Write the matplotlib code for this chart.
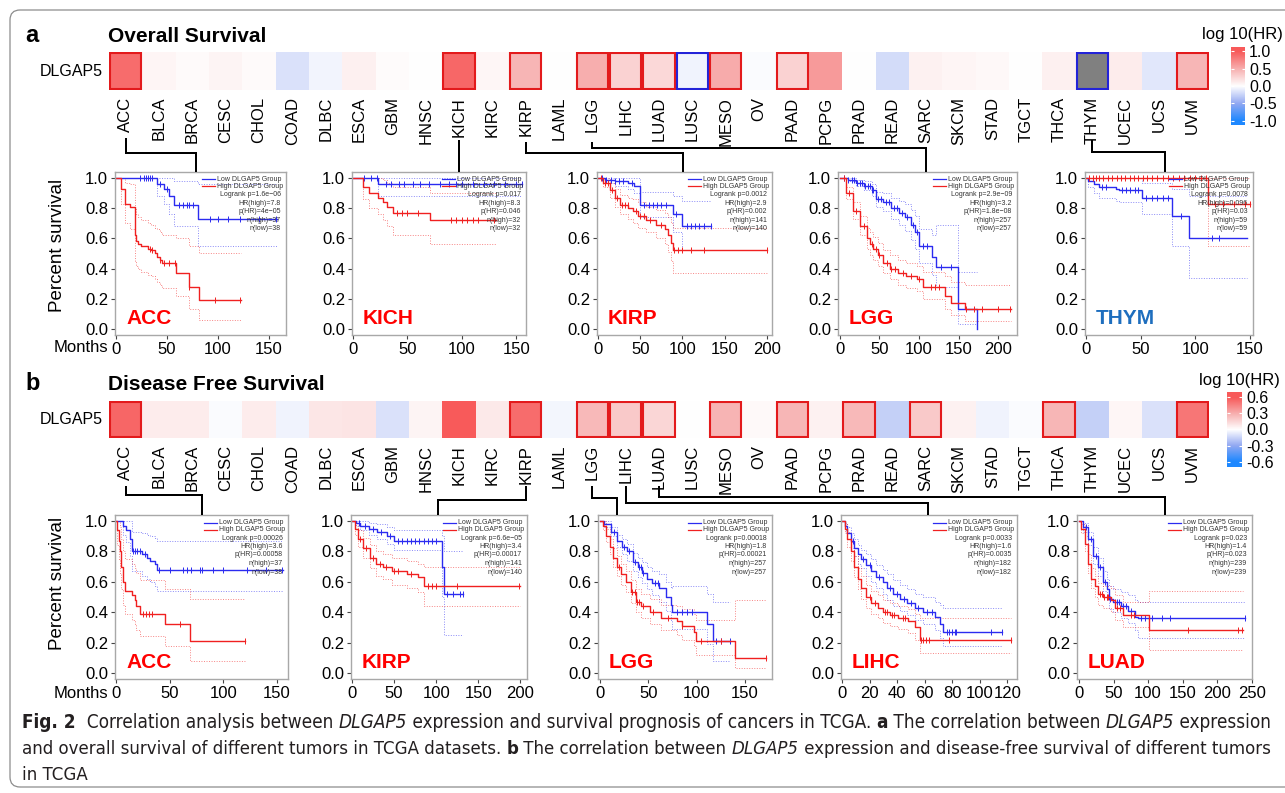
import numpy as np
import matplotlib
matplotlib.use("Agg")
import matplotlib.pyplot as plt
from matplotlib.colors import LinearSegmentedColormap, Normalize
from matplotlib.patches import Rectangle, FancyBboxPatch
from matplotlib.lines import Line2D
from matplotlib.transforms import IdentityTransform
from matplotlib import font_manager

# ---------------------------------------------------------------- data
CANCERS = ["ACC", "BLCA", "BRCA", "CESC", "CHOL", "COAD", "DLBC", "ESCA", "GBM",
           "HNSC", "KICH", "KIRC", "KIRP", "LAML", "LGG", "LIHC", "LUAD", "LUSC",
           "MESO", "OV", "PAAD", "PCPG", "PRAD", "READ", "SARC", "SKCM", "STAD",
           "TGCT", "THCA", "THYM", "UCEC", "UCS", "UVM"]

# log10(HR) per cancer, overall survival (THYM out of range -> grey)
OS_LOGHR = [0.89, 0.06, 0.03, 0.07, 0.03, -0.17, -0.06, 0.09, 0.02, 0.0, 0.92, 0.05,
            0.46, 0.0, 0.50, 0.28, 0.24, -0.07, 0.52, -0.02, 0.28, 0.62, 0.0, -0.20,
            0.08, 0.06, 0.04, 0.0, 0.09, np.nan, 0.11, -0.14, 0.45]
# significance: 1 = HR>1 significant (red box), -1 = HR<1 significant (blue box)
OS_SIG = [1, 0, 0, 0, 0, 0, 0, 0, 0, 0, 1, 0, 1, 0, 1, 1, 1, -1, 1, 0, 1, 0, 0, 0,
          0, 0, 0, 0, 0, -1, 0, 0, 1]
DFS_LOGHR = [0.556, 0.07, 0.07, -0.01, 0.07, -0.04, 0.09, 0.10, -0.10, 0.04, 0.62, 0.08,
             0.53, -0.03, 0.26, 0.20, 0.15, 0.0, 0.28, 0.02, 0.27, 0.05, 0.26, -0.16,
             0.20, 0.05, -0.04, -0.01, 0.27, -0.16, 0.03, -0.10, 0.50]
DFS_SIG = [1, 0, 0, 0, 0, 0, 0, 0, 0, 0, 0, 0, 1, 0, 1, 1, 1, 0, 1, 0, 1, 0, 1, 0,
           1, 0, 0, 0, 1, 0, 0, 0, 1]

OS_TICKS = [-1.0, -0.5, 0.0, 0.5, 1.0]
OS_TICKLABELS = ["-1.0", "-0.5", "0.0", "0.5", "1.0"]
DFS_TICKS = [-0.6, -0.3, 0.0, 0.3, 0.6]
DFS_TICKLABELS = ["-0.6", "-0.3", "0.0", "0.3", "0.6"]

# ---- Kaplan-Meier curves (months, survival, CI low, CI high, censor times)
os_acc_low = dict(t=[0, 40, 47, 52, 57, 81, 158],
                  s=[1.0, 0.96, 0.93, 0.88, 0.82, 0.73, 0.73],
                  lo=[1.0, 0.88, 0.83, 0.76, 0.68, 0.55, 0.55],
                  hi=[1.0, 1.0, 1.0, 1.0, 0.98, 0.96, 0.96],
                  cens=[24, 27, 29, 31, 33, 35, 43, 50, 62, 66, 70, 72, 76, 92, 100, 110, 122, 140, 157])
os_acc_high = dict(t=[0, 4.5, 9, 14, 18.5, 20, 22, 25, 31, 34, 38, 40, 43, 45, 59, 72, 82, 123],
                   s=[1.0, 0.93, 0.83, 0.81, 0.62, 0.58, 0.56, 0.55, 0.53, 0.52, 0.50, 0.48, 0.46, 0.44, 0.37, 0.28, 0.19, 0.19],
                   lo=[1.0, 0.83, 0.70, 0.66, 0.45, 0.42, 0.40, 0.38, 0.36, 0.35, 0.33, 0.31, 0.29, 0.27, 0.22, 0.13, 0.06, 0.06],
                   hi=[1.0, 1.0, 0.97, 0.96, 0.80, 0.76, 0.74, 0.72, 0.70, 0.69, 0.67, 0.66, 0.64, 0.62, 0.60, 0.55, 0.50, 0.50],
                   cens=[33, 35, 43, 47, 52, 58, 72, 97, 122])
os_kich_low = dict(t=[0, 23, 155], s=[1.0, 0.96, 0.96], lo=[1.0, 0.88, 0.88], hi=[1.0, 1.0, 1.0],
                   cens=[10, 17, 22, 30, 35, 42, 47, 55, 62, 70, 80, 88, 95, 100, 110, 120, 130, 140, 150, 155])
os_kich_high = dict(t=[0, 9, 15, 23, 28, 31, 37, 71, 131],
                    s=[1.0, 0.94, 0.90, 0.87, 0.84, 0.81, 0.77, 0.72, 0.72],
                    lo=[1.0, 0.86, 0.80, 0.76, 0.72, 0.68, 0.62, 0.56, 0.56],
                    hi=[1.0, 1.0, 1.0, 1.0, 0.99, 0.97, 0.94, 0.90, 0.90],
                    cens=[40, 45, 50, 60, 90, 95, 100, 105, 110, 115, 130])
os_kirp_low = dict(t=[0, 8, 20, 35, 43, 50, 89, 100, 134],
                   s=[1.0, 0.99, 0.98, 0.97, 0.95, 0.82, 0.76, 0.68, 0.68],
                   lo=[1.0, 0.97, 0.95, 0.93, 0.90, 0.74, 0.64, 0.52, 0.52],
                   hi=[1.0, 1.0, 1.0, 1.0, 1.0, 0.91, 0.88, 0.85, 0.85],
                   cens=[5, 10, 15, 20, 25, 30, 40, 55, 60, 65, 70, 75, 80, 92, 105, 110, 115, 120, 125, 134])
os_kirp_high = dict(t=[0, 6, 14, 20, 26, 36, 41, 47, 57, 69, 79, 83, 87, 89, 200],
                    s=[1.0, 0.97, 0.92, 0.87, 0.82, 0.80, 0.78, 0.75, 0.72, 0.69, 0.66, 0.62, 0.57, 0.52, 0.52],
                    lo=[1.0, 0.94, 0.87, 0.81, 0.76, 0.73, 0.70, 0.67, 0.64, 0.60, 0.56, 0.51, 0.45, 0.37, 0.37],
                    hi=[1.0, 1.0, 0.97, 0.93, 0.89, 0.87, 0.86, 0.84, 0.81, 0.79, 0.77, 0.74, 0.70, 0.67, 0.67],
                    cens=[4, 8, 12, 16, 22, 28, 32, 35, 45, 50, 55, 62, 75, 90, 95, 100, 110, 125, 200])
os_lgg_low = dict(t=[0, 10, 20, 30, 40, 45, 55, 65, 75, 82, 90, 95, 100, 116, 121, 149, 173],
                  s=[1.0, 0.99, 0.97, 0.95, 0.92, 0.86, 0.84, 0.80, 0.77, 0.74, 0.69, 0.64, 0.55, 0.48, 0.41, 0.13, 0.0],
                  lo=[1.0, 0.98, 0.95, 0.92, 0.88, 0.81, 0.78, 0.73, 0.69, 0.65, 0.59, 0.53, 0.44, 0.36, 0.28, 0.03, 0.0],
                  hi=[1.0, 1.0, 0.99, 0.98, 0.96, 0.91, 0.90, 0.87, 0.85, 0.83, 0.79, 0.75, 0.66, 0.62, 0.69, 0.38, 0.38],
                  cens=[5, 10, 15, 18, 22, 25, 28, 32, 36, 38, 40, 42, 48, 52, 58, 62, 68, 72, 78, 85, 92, 98, 105, 110, 128, 140])
os_lgg_high = dict(t=[0, 8, 17, 25, 34, 38, 42, 48, 55, 63, 74, 84, 97, 105, 133, 141, 158, 217],
                   s=[1.0, 0.90, 0.78, 0.68, 0.60, 0.56, 0.53, 0.49, 0.44, 0.40, 0.37, 0.35, 0.33, 0.28, 0.22, 0.17, 0.13, 0.13],
                   lo=[1.0, 0.86, 0.73, 0.62, 0.53, 0.49, 0.46, 0.42, 0.37, 0.33, 0.29, 0.27, 0.25, 0.20, 0.13, 0.09, 0.05, 0.05],
                   hi=[1.0, 0.94, 0.84, 0.75, 0.67, 0.64, 0.61, 0.57, 0.52, 0.49, 0.46, 0.44, 0.42, 0.38, 0.35, 0.31, 0.29, 0.29],
                   cens=[5, 12, 20, 30, 40, 45, 50, 60, 65, 70, 80, 90, 100, 115, 120, 125, 160, 170, 180, 200, 215])
os_thym_low = dict(t=[0, 2, 7, 12, 27, 30, 51, 79, 94, 147],
                   s=[1.0, 0.98, 0.96, 0.94, 0.93, 0.92, 0.87, 0.75, 0.60, 0.60],
                   lo=[1.0, 0.94, 0.90, 0.87, 0.85, 0.84, 0.76, 0.55, 0.34, 0.34],
                   hi=[1.0, 1.0, 1.0, 1.0, 1.0, 1.0, 0.97, 0.93, 0.88, 0.88],
                   cens=[15, 18, 33, 37, 40, 45, 48, 55, 60, 65, 70, 75, 87, 115, 122])
os_thym_high = dict(t=[0, 112, 150], s=[1.0, 0.83, 0.83], lo=[1.0, 0.55, 0.55], hi=[1.0, 1.0, 1.0],
                    cens=[3, 6, 9, 12, 16, 20, 24, 28, 32, 36, 40, 44, 48, 52, 56, 60, 65, 70, 75, 80,
                          85, 90, 95, 100, 105, 110, 118, 125, 135, 145, 150])

dfs_acc_low = dict(t=[0, 7, 9, 13, 15, 24, 29, 32, 36, 38, 156],
                   s=[1.0, 0.97, 0.94, 0.88, 0.80, 0.78, 0.76, 0.74, 0.72, 0.68, 0.68],
                   lo=[1.0, 0.91, 0.86, 0.77, 0.67, 0.64, 0.62, 0.60, 0.57, 0.54, 0.54],
                   hi=[1.0, 1.0, 1.0, 1.0, 0.93, 0.92, 0.91, 0.90, 0.89, 0.87, 0.87],
                   cens=[16, 18, 20, 22, 27, 40, 50, 62, 66, 70, 78, 80, 90, 100, 122, 140, 155])
dfs_acc_high = dict(t=[0, 1, 3, 4, 5, 7, 8, 15, 18, 19, 22, 46, 69, 120],
                    s=[1.0, 0.94, 0.87, 0.80, 0.70, 0.60, 0.54, 0.51, 0.48, 0.44, 0.39, 0.32, 0.21, 0.21],
                    lo=[1.0, 0.84, 0.75, 0.66, 0.55, 0.45, 0.39, 0.35, 0.32, 0.28, 0.24, 0.18, 0.08, 0.08],
                    hi=[1.0, 1.0, 1.0, 0.96, 0.88, 0.80, 0.75, 0.72, 0.69, 0.66, 0.61, 0.55, 0.49, 0.49],
                    cens=[25, 28, 31, 34, 60, 120])
dfs_kirp_low = dict(t=[0, 5, 10, 20, 30, 42, 50, 107, 109, 132],
                    s=[1.0, 0.99, 0.97, 0.95, 0.93, 0.90, 0.87, 0.70, 0.52, 0.52],
                    lo=[1.0, 0.97, 0.94, 0.91, 0.88, 0.85, 0.81, 0.50, 0.25, 0.25],
                    hi=[1.0, 1.0, 1.0, 0.99, 0.98, 0.96, 0.94, 0.90, 0.80, 0.80],
                    cens=[8, 15, 25, 35, 45, 55, 60, 65, 70, 75, 80, 85, 90, 95, 100, 113, 120, 128, 132])
dfs_kirp_high = dict(t=[0, 3, 7, 13, 21, 29, 37, 47, 65, 79, 85, 200],
                     s=[1.0, 0.95, 0.88, 0.82, 0.76, 0.72, 0.70, 0.67, 0.65, 0.63, 0.57, 0.57],
                     lo=[1.0, 0.91, 0.83, 0.76, 0.69, 0.64, 0.62, 0.58, 0.56, 0.53, 0.44, 0.44],
                     hi=[1.0, 0.99, 0.94, 0.89, 0.84, 0.80, 0.78, 0.76, 0.74, 0.72, 0.70, 0.70],
                     cens=[10, 17, 25, 33, 40, 50, 55, 70, 90, 95, 100, 125, 198])
dfs_lgg_low = dict(t=[0, 4, 11, 18, 23, 28, 34, 39, 44, 49, 54, 61, 68, 73, 75, 111, 117, 135],
                   s=[1.0, 0.98, 0.93, 0.87, 0.83, 0.80, 0.73, 0.70, 0.66, 0.62, 0.59, 0.56, 0.50, 0.45, 0.40, 0.32, 0.21, 0.21],
                   lo=[1.0, 0.96, 0.90, 0.83, 0.78, 0.74, 0.67, 0.63, 0.59, 0.55, 0.51, 0.47, 0.41, 0.35, 0.29, 0.19, 0.08, 0.08],
                   hi=[1.0, 1.0, 0.96, 0.91, 0.88, 0.85, 0.79, 0.76, 0.73, 0.70, 0.67, 0.65, 0.60, 0.56, 0.57, 0.52, 0.47, 0.47],
                   cens=[15, 25, 30, 36, 40, 42, 45, 57, 60, 80, 85, 90, 95, 120, 125, 135])
dfs_lgg_high = dict(t=[0, 3, 6, 10, 13, 18, 22, 27, 32, 37, 42, 52, 63, 80, 85, 97, 99, 140, 172],
                    s=[1.0, 0.97, 0.90, 0.83, 0.76, 0.70, 0.65, 0.60, 0.53, 0.47, 0.44, 0.40, 0.36, 0.34, 0.31, 0.27, 0.21, 0.10, 0.10],
                    lo=[1.0, 0.94, 0.86, 0.78, 0.70, 0.64, 0.58, 0.53, 0.46, 0.40, 0.36, 0.32, 0.28, 0.25, 0.22, 0.18, 0.12, 0.03, 0.03],
                    hi=[1.0, 1.0, 0.95, 0.88, 0.82, 0.77, 0.72, 0.67, 0.61, 0.55, 0.52, 0.49, 0.45, 0.44, 0.42, 0.39, 0.35, 0.48, 0.48],
                    cens=[20, 33, 36, 38, 40, 45, 55, 70, 85, 105, 125, 172])
dfs_lihc_low = dict(t=[0, 2, 4, 6.5, 9, 11.5, 14, 17.5, 21, 25, 30, 33, 37, 42, 47, 53, 59, 67.5, 71, 73, 116],
                    s=[1.0, 0.97, 0.92, 0.87, 0.82, 0.78, 0.75, 0.71, 0.67, 0.63, 0.60, 0.56, 0.52, 0.49, 0.46, 0.43, 0.40, 0.37, 0.32, 0.27, 0.27],
                    lo=[1.0, 0.94, 0.88, 0.82, 0.77, 0.72, 0.69, 0.64, 0.60, 0.56, 0.52, 0.48, 0.44, 0.41, 0.38, 0.35, 0.32, 0.28, 0.23, 0.18, 0.18],
                    hi=[1.0, 0.99, 0.96, 0.92, 0.88, 0.84, 0.81, 0.78, 0.75, 0.71, 0.68, 0.65, 0.61, 0.58, 0.55, 0.52, 0.50, 0.47, 0.45, 0.43, 0.43],
                    cens=[8, 15, 20, 27, 35, 40, 45, 50, 55, 62, 65, 76, 78, 80, 82, 83, 108, 116])
dfs_lihc_high = dict(t=[0, 2, 4, 6.5, 9, 11.5, 14, 17.5, 21, 26, 30, 35, 41, 48, 53, 56.5, 123],
                     s=[1.0, 0.95, 0.88, 0.80, 0.70, 0.62, 0.56, 0.50, 0.46, 0.43, 0.40, 0.38, 0.36, 0.34, 0.30, 0.22, 0.22],
                     lo=[1.0, 0.92, 0.83, 0.74, 0.63, 0.55, 0.49, 0.43, 0.39, 0.36, 0.33, 0.31, 0.29, 0.26, 0.22, 0.13, 0.13],
                     hi=[1.0, 0.98, 0.93, 0.86, 0.77, 0.69, 0.64, 0.58, 0.54, 0.51, 0.48, 0.46, 0.44, 0.42, 0.39, 0.36, 0.36],
                     cens=[20, 24, 31, 33, 36, 38, 44, 46, 57, 59, 61, 63, 78, 123])
dfs_luad_low = dict(t=[0, 6, 13, 20, 27.5, 35, 40, 44, 49, 61, 71, 81, 85.5, 241],
                    s=[1.0, 0.96, 0.88, 0.77, 0.70, 0.60, 0.55, 0.49, 0.47, 0.44, 0.41, 0.37, 0.36, 0.36],
                    lo=[1.0, 0.93, 0.84, 0.72, 0.64, 0.54, 0.48, 0.42, 0.40, 0.36, 0.33, 0.28, 0.23, 0.23],
                    hi=[1.0, 0.99, 0.93, 0.83, 0.76, 0.67, 0.62, 0.57, 0.55, 0.53, 0.51, 0.48, 0.47, 0.47],
                    cens=[10, 18, 25, 30, 37, 45, 52, 55, 58, 64, 68, 76, 90, 96, 105, 120, 132, 241])
dfs_luad_high = dict(t=[0, 3, 8, 13, 18, 23, 27.5, 35, 47, 52, 64, 102, 238],
                     s=[1.0, 0.95, 0.85, 0.72, 0.62, 0.57, 0.52, 0.50, 0.48, 0.43, 0.38, 0.28, 0.28],
                     lo=[1.0, 0.92, 0.80, 0.66, 0.56, 0.50, 0.45, 0.43, 0.40, 0.35, 0.30, 0.15, 0.15],
                     hi=[1.0, 0.98, 0.90, 0.78, 0.69, 0.64, 0.59, 0.57, 0.56, 0.51, 0.47, 0.54, 0.54],
                     cens=[30, 33, 36, 40, 42, 55, 60, 75, 80, 158, 230, 236])

OS_ACC_STATS = ["Logrank p=1.6e\u221206", "HR(high)=7.8", "p(HR)=4e\u221205", "n(high)=37", "n(low)=38"]
OS_KICH_STATS = ["Logrank p=0.017", "HR(high)=8.3", "p(HR)=0.046", "n(high)=32", "n(low)=32"]
OS_KIRP_STATS = ["Logrank p=0.0012", "HR(high)=2.9", "p(HR)=0.002", "n(high)=141", "n(low)=140"]
OS_LGG_STATS = ["Logrank p=2.9e\u221209", "HR(high)=3.2", "p(HR)=1.8e\u221208", "n(high)=257", "n(low)=257"]
OS_THYM_STATS = ["Logrank p=0.0078", "HR(high)=0.096", "p(HR)=0.03", "n(high)=59", "n(low)=59"]
DFS_ACC_STATS = ["Logrank p=0.00026", "HR(high)=3.6", "p(HR)=0.00058", "n(high)=37", "n(low)=38"]
DFS_KIRP_STATS = ["Logrank p=6.6e\u221205", "HR(high)=3.4", "p(HR)=0.00017", "n(high)=141", "n(low)=140"]
DFS_LGG_STATS = ["Logrank p=0.00018", "HR(high)=1.8", "p(HR)=0.00021", "n(high)=257", "n(low)=257"]
DFS_LIHC_STATS = ["Logrank p=0.0033", "HR(high)=1.6", "p(HR)=0.0035", "n(high)=182", "n(low)=182"]
DFS_LUAD_STATS = ["Logrank p=0.023", "HR(high)=1.4", "p(HR)=0.023", "n(high)=239", "n(low)=239"]

CAPTION_LINES = [
    [("Fig. 2", "bold", "normal"), ("  Correlation analysis between ", "normal", "normal"),
     ("DLGAP5", "normal", "italic"),
     (" expression and survival prognosis of cancers in TCGA. ", "normal", "normal"),
     ("a", "bold", "normal"), (" The correlation between ", "normal", "normal"),
     ("DLGAP5", "normal", "italic"), (" expression", "normal", "normal")],
    [("and overall survival of different tumors in TCGA datasets. ", "normal", "normal"),
     ("b", "bold", "normal"), (" The correlation between ", "normal", "normal"),
     ("DLGAP5", "normal", "italic"),
     (" expression and disease-free survival of different tumors", "normal", "normal")],
    [("in TCGA", "normal", "normal")],
]

# ---------------------------------------------------------------- style
W, H = 1285, 793
_fonts = font_manager.fontManager.ttflist
_names = {f.name for f in _fonts}
MAIN_FONT = "Liberation Sans" if "Liberation Sans" in _names else "Roboto"
plt.rcParams["font.family"] = [MAIN_FONT, "DejaVu Sans"]
BLUE = "#2B2BF0"
RED = "#F02020"
TXT = "#333333"
HR_CMAP = LinearSegmentedColormap.from_list(
    "hr", [(0.0, "#1E88FF"), (0.25, "#93A9F2"), (0.5, "#FFFFFF"), (0.75, "#F7AFAF"), (1.0, "#F85A5A")])

if "Liberation Sans Narrow" in _names:
    CAP_FONT, CAP_STRETCH = "Liberation Sans Narrow", "normal"
elif any(f.name == "DejaVu Sans" and f.stretch == "condensed" for f in _fonts):
    CAP_FONT, CAP_STRETCH = "DejaVu Sans", "condensed"
else:
    CAP_FONT, CAP_STRETCH = "Roboto", "normal"

fig = plt.figure(figsize=(W / 100, H / 100), dpi=100)


def px_axes(x0, y0, x1, y1):
    return fig.add_axes([x0 / W, 1 - y1 / H, (x1 - x0) / W, (y1 - y0) / H])


def heatmap(box, vals, sig, vmax):
    ax = px_axes(*box)
    n = len(vals)
    data = np.ma.masked_invalid(np.array([vals], dtype=float))
    cmap = HR_CMAP.copy()
    cmap.set_bad("#808080")
    ax.imshow(data, cmap=cmap, norm=Normalize(-vmax, vmax), aspect="auto",
              extent=(-0.5, n - 0.5, 0.5, -0.5), interpolation="nearest")
    dx, dy = 0.03, 0.027
    for i, sg in enumerate(sig):
        if sg:
            ax.add_patch(Rectangle((i - 0.5 + dx, -0.5 + dy), 1 - 2 * dx, 1 - 2 * dy, fill=False,
                                   ec="#E31A1C" if sg > 0 else "#2323D8", lw=1.5))
    ax.set_xlim(-0.5, n - 0.5)
    ax.set_ylim(0.5, -0.5)
    ax.set_xticks(range(n))
    ax.set_xticklabels(CANCERS, rotation=90, fontsize=12)
    ax.tick_params(axis="x", length=0, pad=5)
    ax.set_yticks([])
    for sp in ax.spines.values():
        sp.set_visible(False)
    return ax


def colorbar(box, vmax, lim, ticks, labels):
    ax = px_axes(*box)
    grad = np.linspace(-lim, lim, 256)[:, None]
    ax.imshow(grad, cmap=HR_CMAP, norm=Normalize(-vmax, vmax), aspect="auto",
              extent=(0, 1, -lim, lim), origin="lower")
    ax.set_xlim(0, 1)
    ax.set_ylim(-lim, lim)
    ax.set_xticks([])
    ax.set_yticks(ticks)
    ax.set_yticklabels(labels, fontsize=11.5)
    ax.tick_params(axis="y", left=True, right=True, labelleft=False, labelright=True,
                   direction="in", length=2.5, width=0.8, color="white", pad=3)
    for sp in ax.spines.values():
        sp.set_visible(False)
    return ax


def km_panel(box, xlim, xticks, low, high, stats, name, name_color):
    x0, y0, x1, y1 = box
    ax = px_axes(*box)
    for grp, col in ((low, BLUE), (high, RED)):
        for key in ("lo", "hi"):
            ax.step(grp["t"], grp[key], where="post", color=col, lw=0.7,
                    ls=(0, (1.0, 1.6)), alpha=0.55)
    for grp, col in ((low, BLUE), (high, RED)):
        t = np.asarray(grp["t"], dtype=float)
        s = np.asarray(grp["s"], dtype=float)
        ax.step(t, s, where="post", color=col, lw=1.0)
        c = np.asarray(grp["cens"], dtype=float)
        idx = np.clip(np.searchsorted(t, c, side="right") - 1, 0, len(s) - 1)
        ax.plot(c, s[idx], ls="none", marker="|", ms=4, mew=0.7, color=col)
    ax.set_xlim(*xlim)
    ax.set_ylim(-0.04, 1.04)
    ax.set_xticks(xticks)
    ax.set_xticklabels([str(v) for v in xticks], fontsize=12)
    yt = [0.0, 0.2, 0.4, 0.6, 0.8, 1.0]
    ax.set_yticks(yt)
    ax.set_yticklabels(["%.1f" % v for v in yt], fontsize=12)
    ax.tick_params(direction="out", length=3, width=0.8, color="#444444", pad=2)
    for sp in ax.spines.values():
        sp.set_color("#A8A8A8")
        sp.set_linewidth(1.0)
    wpx, hpx = x1 - x0, y1 - y0
    offs = [7.5, 14.5, 23, 31.5, 40, 48.5, 57]
    for i, (lab, col) in enumerate((("Low DLGAP5 Group", BLUE), ("High DLGAP5 Group", RED))):
        yf = 1 - offs[i] / hpx
        ax.plot([1 - 84 / wpx, 1 - 71 / wpx], [yf, yf], transform=ax.transAxes,
                color=col, lw=0.9, clip_on=False)
        ax.text(1 - 69 / wpx, yf, lab, transform=ax.transAxes, fontsize=5,
                ha="left", va="center", color=TXT)
    for j, st in enumerate(stats):
        ax.text(1 - 5 / wpx, 1 - offs[j + 2] / hpx, st, transform=ax.transAxes,
                fontsize=5, ha="right", va="center", color=TXT)
    ax.text(11 / wpx, 11 / hpx, name, transform=ax.transAxes, fontsize=15,
            fontweight="bold", color=name_color, ha="left", va="baseline")
    return ax


def px_line(pts, lw=2.0, color="black"):
    xs = [p[0] / W for p in pts]
    ys = [1 - p[1] / H for p in pts]
    fig.add_artist(Line2D(xs, ys, transform=fig.transFigure, color=color,
                          lw=lw * 0.72, solid_joinstyle="miter", solid_capstyle="butt"))


def ftext(x, y, s, **kw):
    return fig.text(x / W, 1 - y / H, s, **kw)


# ---------------------------------------------------------------- frame
fig.add_artist(FancyBboxPatch((10, H - 787), 1300, 777, boxstyle="round,pad=0,rounding_size=10",
                              transform=IdentityTransform(), fill=False, ec="#8C8C8C", lw=0.9))

# ---------------------------------------------------------------- panel a
ftext(25, 35, "a", fontsize=17, fontweight="bold", va="center", ha="left")
ftext(108, 37, "Overall Survival", fontsize=15, fontweight="bold", va="center", ha="left")
heatmap((109, 52, 1209, 90), OS_LOGHR, OS_SIG, 1.0)
ftext(103, 72, "DLGAP5", fontsize=11.5, va="center", ha="right")
colorbar((1231, 47, 1245, 125), 1.0, 1.12, OS_TICKS, OS_TICKLABELS)
ftext(1202, 35, "log 10(HR)", fontsize=12, va="center", ha="left")

ROW_A = (172, 335)
km_panel((115, ROW_A[0], 286, ROW_A[1]), (-1, 167), [0, 50, 100, 150], os_acc_low, os_acc_high, OS_ACC_STATS, "ACC", "#FF0000")
km_panel((352, ROW_A[0], 526, ROW_A[1]), (-0.9, 159), [0, 50, 100, 150], os_kich_low, os_kich_high, OS_KICH_STATS, "KICH", "#FF0000")
km_panel((597, ROW_A[0], 772, ROW_A[1]), (-1.2, 206), [0, 50, 100, 150, 200], os_kirp_low, os_kirp_high, OS_KIRP_STATS, "KIRP", "#FF0000")
km_panel((838, ROW_A[0], 1017, ROW_A[1]), (-2.5, 224), [0, 50, 100, 150, 200], os_lgg_low, os_lgg_high, OS_LGG_STATS, "LGG", "#FF0000")
km_panel((1085, ROW_A[0], 1253, ROW_A[1]), (-0.9, 152.7), [0, 50, 100, 150], os_thym_low, os_thym_high, OS_THYM_STATS, "THYM", "#1E6EBE")
ftext(57, 245, "Percent survival", fontsize=13.5, rotation=90, va="center", ha="center")
ftext(108, 347, "Months", fontsize=12, va="center", ha="right")

px_line([(126, 138), (126, 153), (196, 153), (196, ROW_A[0])])
px_line([(459, 140), (459, ROW_A[0])])
px_line([(526, 142), (526, 153), (683, 153), (683, ROW_A[0])])
px_line([(592, 142), (592, 148), (926, 148), (926, ROW_A[0])])
px_line([(1092, 140), (1092, 152), (1165, 152), (1165, ROW_A[0])])

# ---------------------------------------------------------------- panel b
ftext(25, 383, "b", fontsize=17, fontweight="bold", va="center", ha="left")
ftext(108, 385, "Disease Free Survival", fontsize=15, fontweight="bold", va="center", ha="left")
heatmap((109, 401, 1209, 438), DFS_LOGHR, DFS_SIG, 0.6)
ftext(103, 420, "DLGAP5", fontsize=11.5, va="center", ha="right")
colorbar((1227, 392, 1242, 467), 0.6, 0.7, DFS_TICKS, DFS_TICKLABELS)
ftext(1199, 380, "log 10(HR)", fontsize=12, va="center", ha="left")

ROW_B = (515, 679)
km_panel((115, ROW_B[0], 288, ROW_B[1]), (-0.9, 160.3), [0, 50, 100, 150], dfs_acc_low, dfs_acc_high, DFS_ACC_STATS, "ACC", "#FF0000")
km_panel((351, ROW_B[0], 527, ROW_B[1]), (-1.2, 208), [0, 50, 100, 150, 200], dfs_kirp_low, dfs_kirp_high, DFS_KIRP_STATS, "KIRP", "#FF0000")
km_panel((598, ROW_B[0], 772, ROW_B[1]), (-2, 178), [0, 50, 100, 150], dfs_lgg_low, dfs_lgg_high, DFS_LGG_STATS, "LGG", "#FF0000")
km_panel((841, ROW_B[0], 1017, ROW_B[1]), (-0.7, 127), [0, 20, 40, 60, 80, 100, 120], dfs_lihc_low, dfs_lihc_high, DFS_LIHC_STATS, "LIHC", "#FF0000")
km_panel((1077, ROW_B[0], 1252, ROW_B[1]), (-2.9, 250.5), [0, 50, 100, 150, 200, 250], dfs_luad_low, dfs_luad_high, DFS_LUAD_STATS, "LUAD", "#FF0000")
ftext(57, 583, "Percent survival", fontsize=13.5, rotation=90, va="center", ha="center")
ftext(108, 694, "Months", fontsize=12, va="center", ha="right")

px_line([(126, 486), (126, 495), (202, 495), (202, ROW_B[0])])
px_line([(526, 486), (526, 500), (438, 500), (438, ROW_B[0])])
px_line([(592, 486), (592, 498), (617, 498), (617, ROW_B[0])])
px_line([(626, 486), (626, 503), (928, 503), (928, ROW_B[0])])
px_line([(659, 486), (659, 497), (1165, 497), (1165, ROW_B[0])])

# ---------------------------------------------------------------- caption
renderer = fig.canvas.get_renderer()


def rich_line(x_px, y_px, pieces, size):
    x = x_px
    arts = []
    for s, wt, st in pieces:
        t = ftext(x, y_px, s, fontsize=size, fontweight=wt, fontstyle=st, fontstretch=CAP_STRETCH,
                  family=[CAP_FONT, "DejaVu Sans"], va="center", ha="left", color="#231F20")
        x += t.get_window_extent(renderer).width
        arts.append(t)
    return arts, x - x_px


CAP_Y = [722, 749, 775]
CAP_TARGET = [1250, 1252, None]
fitted = []
for pieces, y, target in zip(CAPTION_LINES, CAP_Y, CAP_TARGET):
    if target is None:
        size = min(fitted) if fitted else 12.5
        rich_line(22, y, pieces, size)
        continue
    arts, width = rich_line(22, y, pieces, 12.5)
    size = 12.5 * target / width
    for a in arts:
        a.remove()
    rich_line(22, y, pieces, size)
    fitted.append(size)

fig.savefig("out.png", dpi=100)
